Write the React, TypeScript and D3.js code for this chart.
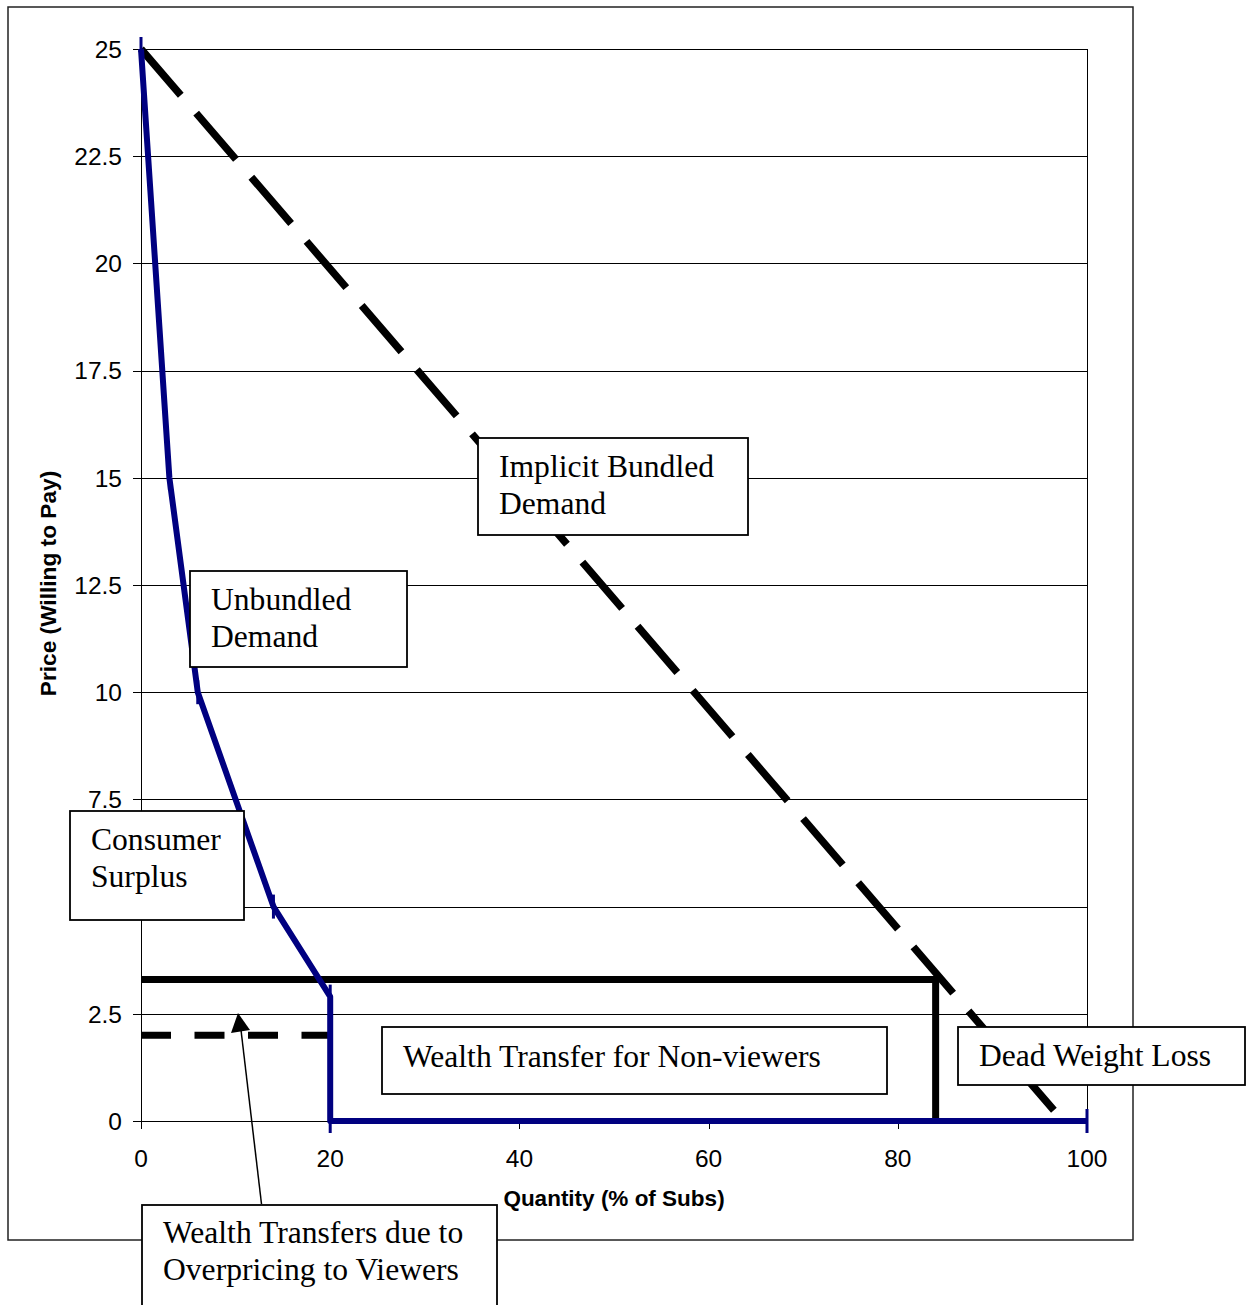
import React from "react";
import * as d3 from "d3";

const yTicks = [0, 2.5, 5, 7.5, 10, 12.5, 15, 17.5, 20, 22.5, 25];
const xTicks = [0, 20, 40, 60, 80, 100];

// Unbundled demand (blue)
const unbundledQ = [0, 3, 6, 14, 20, 20, 100];
const unbundledP = [25, 15, 10, 5, 2.9, 0, 0];

// Implicit bundled demand (dashed)
const bundledQ = [0, 96.5];
const bundledP = [25, 0.25];

// Bundled price line (solid black)
const bundlePriceQ = [0, 84, 84];
const bundlePriceP = [3.3, 3.3, 0];

// Viewer price line (dashed black)
const viewerPriceQ = [0, 20];
const viewerPriceP = [2, 2];

const W = 1246;
const H = 1305;

const x = d3.scaleLinear().domain([0, 100]).range([141, 1087]);
const y = d3.scaleLinear().domain([0, 25]).range([1121, 49]);

const line = d3
  .line<[number, number]>()
  .x((d) => x(d[0]))
  .y((d) => y(d[1]));

const zip = (a: number[], b: number[]) => a.map((v, i) => [v, b[i]] as [number, number]);

const fmt = (v: number) => (Number.isInteger(v) ? String(v) : v.toFixed(1));

const serif = "'Liberation Serif', 'Times New Roman', serif";
const sans = "'Liberation Sans', Arial, sans-serif";

type Box = { x: number; y: number; w: number; h: number; tx: number; lines: string[]; by: number };

const boxes: Box[] = [
  { x: 478, y: 438, w: 270, h: 97, tx: 499, by: 477, lines: ["Implicit Bundled", "Demand"] },
  { x: 190, y: 571, w: 217, h: 96, tx: 211, by: 610, lines: ["Unbundled", "Demand"] },
  { x: 70, y: 811, w: 174, h: 109, tx: 91, by: 850, lines: ["Consumer", "Surplus"] },
  { x: 382, y: 1027, w: 505, h: 67, tx: 403, by: 1067, lines: ["Wealth Transfer for Non-viewers"] },
  { x: 958, y: 1027, w: 287, h: 58, tx: 979, by: 1066, lines: ["Dead Weight Loss"] },
  { x: 142, y: 1205, w: 355, h: 130, tx: 163, by: 1243, lines: ["Wealth Transfers due to", "Overpricing to Viewers"] },
];

export default function App() {
  const unb = zip(unbundledQ, unbundledP);
  return (
    <svg
      width={W}
      height={H}
      style={{ position: "absolute", left: 0, top: 0, background: "#fff" }}
    >
      <rect x={0} y={0} width={W} height={H} fill="#fff" />
      {/* outer frame */}
      <rect x={8} y={7} width={1125} height={1233} fill="none" stroke="#222" strokeWidth={1.5} />

      {/* gridlines */}
      {yTicks.map((t) => (
        <line key={"g" + t} x1={x(0)} x2={x(100)} y1={Math.round(y(t)) + 0.5} y2={Math.round(y(t)) + 0.5} stroke="#000" strokeWidth={1} />
      ))}
      {/* plot border right */}
      <line x1={x(100) + 0.5} x2={x(100) + 0.5} y1={y(25)} y2={y(0)} stroke="#000" strokeWidth={1} />
      {/* y axis */}
      <line x1={x(0) + 0.5} x2={x(0) + 0.5} y1={y(25)} y2={y(0) + 8} stroke="#000" strokeWidth={1} />
      {yTicks.map((t) => (
        <g key={"yt" + t}>
          <line x1={x(0) - 8} x2={x(0)} y1={Math.round(y(t)) + 0.5} y2={Math.round(y(t)) + 0.5} stroke="#000" strokeWidth={1} />
          <text x={122} y={y(t)} dy="0.36em" textAnchor="end" fontFamily={sans} fontSize={24.5} fill="#000">
            {fmt(t)}
          </text>
        </g>
      ))}
      {/* x axis */}
      {xTicks.map((t) => (
        <g key={"xt" + t}>
          <line x1={Math.round(x(t)) + 0.5} x2={Math.round(x(t)) + 0.5} y1={y(0)} y2={y(0) + 8} stroke="#000" strokeWidth={1} />
          <text x={x(t)} y={1167} textAnchor="middle" fontFamily={sans} fontSize={24.5} fill="#000">
            {fmt(t)}
          </text>
        </g>
      ))}

      {/* axis titles */}
      <text x={614} y={1206} textAnchor="middle" fontFamily={sans} fontWeight="bold" fontSize={22.5} fill="#000">
        Quantity (% of Subs)
      </text>
      <text
        transform={`translate(56,583.5) rotate(-90)`}
        textAnchor="middle"
        fontFamily={sans}
        fontWeight="bold"
        fontSize={22.7}
        fill="#000"
      >
        Price (Willing to Pay)
      </text>

      {/* bundled demand dashed */}
      <path d={line(zip(bundledQ, bundledP)) || ""} fill="none" stroke="#000" strokeWidth={7.5} strokeDasharray="61 23.6" />

      {/* bundle price */}
      <path d={line(zip(bundlePriceQ, bundlePriceP)) || ""} fill="none" stroke="#000" strokeWidth={7} strokeLinejoin="miter" />
      {/* viewer price */}
      <path d={line(zip(viewerPriceQ, viewerPriceP)) || ""} fill="none" stroke="#000" strokeWidth={7} strokeDasharray="30 23.5" />

      {/* unbundled demand */}
      <path d={line(unb) || ""} fill="none" stroke="#000080" strokeWidth={6} strokeLinejoin="round" />
      {unb.map((d, i) => (
        <line key={"m" + i} x1={x(d[0])} x2={x(d[0])} y1={y(d[1]) - 12} y2={y(d[1]) + 12} stroke="#000080" strokeWidth={3} />
      ))}

      {/* boxes */}
      {boxes.map((b, i) => (
        <g key={"b" + i}>
          <rect x={b.x} y={b.y} width={b.w} height={b.h} fill="#fff" stroke="#000" strokeWidth={1.8} />
          {b.lines.map((l, j) => (
            <text key={j} x={b.tx} y={b.by + j * 37} fontFamily={serif} fontSize={31.6} fill="#000">
              {l}
            </text>
          ))}
        </g>
      ))}

      {/* arrow */}
      <line x1={261.5} y1={1204} x2={241} y2={1030} stroke="#000" strokeWidth={1.5} />
      <polygon points="238,1013 231,1033 250,1030" fill="#000" />
    </svg>
  );
}
